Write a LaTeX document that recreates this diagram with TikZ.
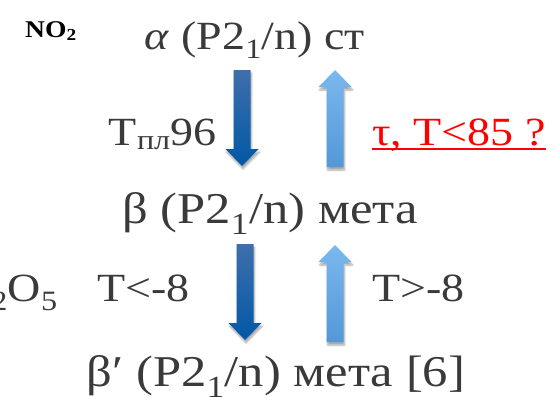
\documentclass[tikz,border=0pt]{standalone}
\usepackage{fontspec}
\setmainfont[FakeStretch=1.15]{Liberation Serif}
\usetikzlibrary{calc,shadows.blur}

\definecolor{txtgray}{HTML}{3A3A3A}
\definecolor{dtop}{HTML}{3F6FAC}
\definecolor{dbot}{HTML}{0058A6}
\definecolor{utop}{HTML}{7AB8EE}
\definecolor{ubot}{HTML}{5498D8}

\begin{document}
\begin{tikzpicture}[
    x=1pt, y=-1pt,
    lbl/.style={inner sep=0pt, text=txtgray, font=\fontsize{40}{44}\selectfont},
    biglbl/.style={lbl, font=\fontsize{44}{48}\selectfont},
    redlbl/.style={lbl, text=red},
    formula/.style={inner sep=0pt, font=\fontsize{24}{26}\selectfont\bfseries},
    shd/.style={blur shadow={shadow xshift=1pt, shadow yshift=-3pt, shadow blur steps=6, shadow opacity=35}},
    darr/.style={shd, top color=dtop, bottom color=dbot},
    uarr/.style={shd, top color=utop, bottom color=ubot}
]
    \useasboundingbox (0,0) rectangle (556,397);

    % phases
    \node [formula, anchor=base west] (no2) at (25,37) {NO\textsubscript{2}};
    \node [lbl, anchor=base] (alpha) at (255,49) {\textit{α} (P2\textsubscript{1}/n) ст};
    \node [biglbl, anchor=base] (beta) at (270,223) {β (P2\textsubscript{1}/n) мета};
    \node [biglbl, anchor=base] (betap) at (276,386) {β′ (P2\textsubscript{1}/n) мета [6]};
    \node [lbl, anchor=base east] (n2o5) at (58,301) {N\textsubscript{2}O\textsubscript{5}};

    % conditions
    \node [lbl, anchor=base east] (tmelt) at (217,145) {T\textsubscript{пл}96};
    \node [redlbl, anchor=base west] (tau) at (372,145) {τ, T<85 ?};
    \node [lbl, anchor=base east] (tlow) at (190,301) {T<-8};
    \node [lbl, anchor=base west] (thigh) at (372,301) {T>-8};
    \draw [red, line width=1.8pt] ([yshift=-4pt]tau.base west) -- ([yshift=-4pt]tau.base east);

    % block arrows
    \coordinate (d1s) at (242,70);  \coordinate (d1e) at (242,166);
    \coordinate (u1s) at (335,167); \coordinate (u1e) at (335,70);
    \coordinate (d2s) at (245,244); \coordinate (d2e) at (245,340);
    \coordinate (u2s) at (335,342); \coordinate (u2e) at (335,245);

    \foreach \s/\e in {d1s/d1e, d2s/d2e}
        \shade [darr] let \p1=(\s), \p2=(\e) in
            (\x1-8.5pt,\y1) -- (\x1-8.5pt,\y2+17pt) -- (\x1-16.5pt,\y2+17pt) -- (\p2)
            -- (\x1+16.5pt,\y2+17pt) -- (\x1+8.5pt,\y2+17pt) -- (\x1+8.5pt,\y1) -- cycle;
    \foreach \s/\e in {u1s/u1e, u2s/u2e}
        \shade [uarr] let \p1=(\s), \p2=(\e) in
            (\x1-8.5pt,\y1) -- (\x1-8.5pt,\y2-17pt) -- (\x1-16.5pt,\y2-17pt) -- (\p2)
            -- (\x1+16.5pt,\y2-17pt) -- (\x1+8.5pt,\y2-17pt) -- (\x1+8.5pt,\y1) -- cycle;
\end{tikzpicture}
\end{document}
